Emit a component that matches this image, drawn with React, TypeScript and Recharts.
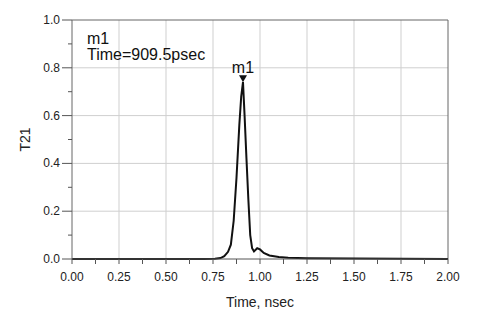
import { LineChart, Line, XAxis, YAxis, ReferenceLine, ReferenceDot, Label } from 'recharts';

const timeNs = [0, 0.25, 0.5, 0.7, 0.76, 0.79, 0.81, 0.83, 0.845, 0.86, 0.875, 0.89, 0.9, 0.9095, 0.918, 0.928, 0.938, 0.948, 0.958, 0.968, 0.985, 1.0, 1.02, 1.05, 1.1, 1.15, 1.25, 1.5, 1.75, 2.0];
const t21 = [0, 0, 0, 0, 0.001, 0.004, 0.012, 0.03, 0.06, 0.16, 0.34, 0.56, 0.68, 0.74, 0.6, 0.42, 0.25, 0.1, 0.045, 0.032, 0.045, 0.04, 0.025, 0.015, 0.008, 0.005, 0.003, 0.002, 0.001, 0];

const xTicks = [0, 0.125, 0.25, 0.375, 0.5, 0.625, 0.75, 0.875, 1, 1.125, 1.25, 1.375, 1.5, 1.625, 1.75, 1.875, 2];
const yTicks = [0, 0.1, 0.2, 0.3, 0.4, 0.5, 0.6, 0.7, 0.8, 0.9, 1];
const xGrid = [0.25, 0.5, 0.75, 1, 1.25, 1.5, 1.75];
const yGrid = [0.2, 0.4, 0.6, 0.8];

const marker = { name: 'm1', time: 0.9095, value: 0.74, readout: 'Time=909.5psec' };

const data = timeNs.map((t, i) => ({ t, v: t21[i] }));

const FONT = 'Arial, "Liberation Sans", sans-serif';
const isMajor = (v: number, step: number) => Math.abs(v / step - Math.round(v / step)) < 1e-6;

function XTick(props: any) {
  const { x, y, payload } = props;
  const major = isMajor(payload.value, 0.25);
  return (
    <g>
      <line x1={x} y1={y} x2={x} y2={y + 5} stroke="#555" />
      {major && (
        <text x={x} y={y + 22} textAnchor="middle" fontSize={12} fontFamily={FONT} fill="#222">
          {payload.value.toFixed(2)}
        </text>
      )}
    </g>
  );
}

function YTick(props: any) {
  const { x, y, payload } = props;
  const major = isMajor(payload.value, 0.2);
  return (
    <g>
      <line x1={x - (major ? 10 : 4)} y1={y} x2={x} y2={y} stroke="#555" />
      {major && (
        <text x={x - 12} y={y + 4} textAnchor="end" fontSize={12} fontFamily={FONT} fill="#222">
          {payload.value.toFixed(1)}
        </text>
      )}
    </g>
  );
}

function MarkerShape(props: any) {
  const { cx, cy } = props;
  return (
    <g>
      <path d={`M${cx - 4},${cy - 7} L${cx + 4},${cy - 7} L${cx},${cy} Z`} fill="#111" />
      <text x={cx} y={cy - 9} textAnchor="middle" fontSize={16} fontFamily={FONT} fill="#111">
        {marker.name}
      </text>
    </g>
  );
}

export default function App() {
  return (
    <div style={{ position: 'absolute', left: 0, top: 0, width: 486, height: 317, background: '#fff' }}>
      <LineChart width={486} height={317} data={data} margin={{ top: 20, right: 38, left: 0, bottom: 0 }}>
        {xGrid.map((g) => (
          <ReferenceLine key={'x' + g} x={g} stroke="#cfcfcf" strokeWidth={1} />
        ))}
        {yGrid.map((g) => (
          <ReferenceLine key={'y' + g} y={g} stroke="#cfcfcf" strokeWidth={1} />
        ))}
        <ReferenceLine y={1} stroke="#666" />
        <ReferenceLine x={2} stroke="#666" />
        <XAxis
          dataKey="t"
          type="number"
          domain={[0, 2]}
          ticks={xTicks}
          interval={0}
          height={58}
          tickSize={0}
          tickMargin={0}
          tickLine={false}
          axisLine={{ stroke: '#555' }}
          tick={<XTick />}
        >
          <Label value="Time, nsec" position="insideBottom" offset={10} fontSize={14} fontFamily={FONT} fill="#222" />
        </XAxis>
        <YAxis
          type="number"
          domain={[0, 1]}
          ticks={yTicks}
          interval={0}
          width={72}
          tickSize={0}
          tickMargin={0}
          tickLine={false}
          axisLine={{ stroke: '#666' }}
          tick={<YTick />}
        >
          <Label
            content={(p: any) => {
              const vb = p.viewBox;
              const cx = vb.x + 30;
              const cy = vb.y + vb.height / 2;
              return (
                <text x={cx} y={cy} transform={`rotate(-90 ${cx} ${cy})`} textAnchor="middle" fontSize={14} fontFamily={FONT} fill="#222">
                  T21
                </text>
              );
            }}
          />
        </YAxis>
        <Line dataKey="v" type="linear" stroke="#111" strokeWidth={2} dot={false} isAnimationActive={false} />
        <ReferenceDot x={marker.time} y={marker.value} r={4} shape={<MarkerShape />} />
      </LineChart>
      <div style={{ position: 'absolute', left: 87, top: 31, fontFamily: FONT, fontSize: 16, lineHeight: '16px', color: '#111' }}>
        <div>{marker.name}</div>
        <div>{marker.readout}</div>
      </div>
    </div>
  );
}
